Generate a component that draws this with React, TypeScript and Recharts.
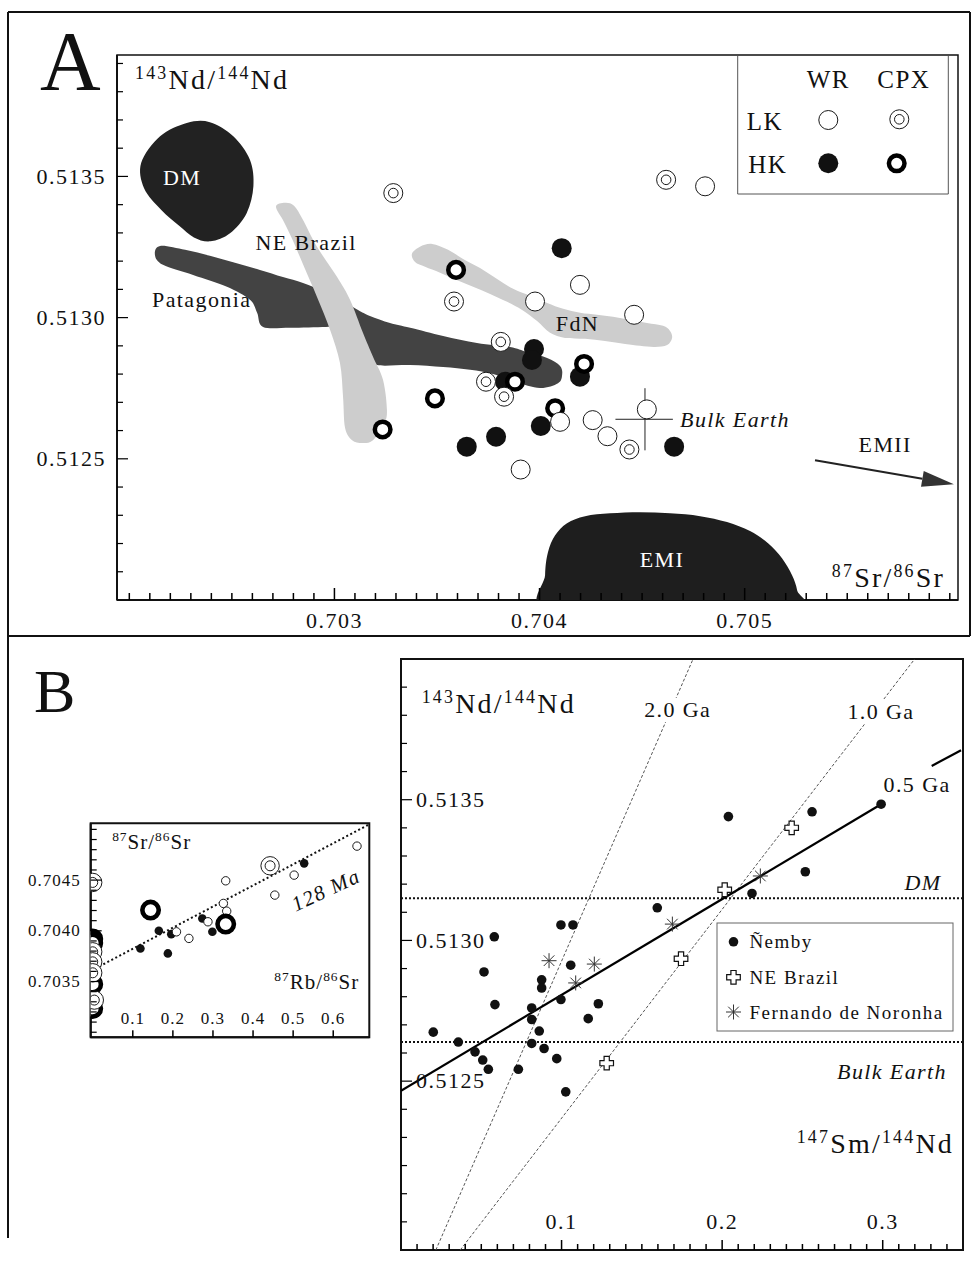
import React from 'react';
import { ScatterChart, Scatter, XAxis, YAxis, ReferenceArea } from 'recharts';

const SERIF = '"Liberation Serif", "Times New Roman", serif';

// ---------------- Panel A : 143Nd/144Nd vs 87Sr/86Sr ----------------
const A_X: [number, number] = [0.70194, 0.70604];
const A_Y: [number, number] = [0.512, 0.51393];
const aXMajors = [0.703, 0.704, 0.705];
const aYMajors = [0.5125, 0.513, 0.5135];

const wrLK_A = [
  { x: 0.704197, y: 0.513116 }, { x: 0.703978, y: 0.513057 }, { x: 0.704461, y: 0.51301 },
  { x: 0.7041, y: 0.512631 }, { x: 0.703908, y: 0.512462 }, { x: 0.704259, y: 0.512637 },
  { x: 0.704331, y: 0.51258 }, { x: 0.704523, y: 0.512675 }, { x: 0.704807, y: 0.513465 },
];
const cpxLK_A = [
  { x: 0.703287, y: 0.513441 }, { x: 0.703583, y: 0.513057 }, { x: 0.703811, y: 0.512914 },
  { x: 0.703739, y: 0.512773 }, { x: 0.703827, y: 0.51272 }, { x: 0.704438, y: 0.512533 },
  { x: 0.704617, y: 0.513488 },
];
const wrHK_A = [
  { x: 0.704108, y: 0.513246 }, { x: 0.703973, y: 0.512889 }, { x: 0.703963, y: 0.51285 },
  { x: 0.703832, y: 0.512773 }, { x: 0.704197, y: 0.512791 }, { x: 0.704006, y: 0.512616 },
  { x: 0.703788, y: 0.512578 }, { x: 0.703645, y: 0.512543 }, { x: 0.704656, y: 0.512543 },
];
const cpxHK_A = [
  { x: 0.703593, y: 0.513169 }, { x: 0.70349, y: 0.512714 }, { x: 0.703235, y: 0.512604 },
  { x: 0.70388, y: 0.512773 }, { x: 0.704217, y: 0.512836 }, { x: 0.704076, y: 0.512679 },
];

// field outlines
const dmField = [
  { x: 0.70215, y: 0.513642 }, { x: 0.70228, y: 0.513689 }, { x: 0.702393, y: 0.513692 },
  { x: 0.702507, y: 0.513642 }, { x: 0.702588, y: 0.513559 }, { x: 0.702605, y: 0.513465 },
  { x: 0.702572, y: 0.51337 }, { x: 0.702491, y: 0.513299 }, { x: 0.702396, y: 0.51327 },
  { x: 0.702315, y: 0.513284 }, { x: 0.702243, y: 0.513325 }, { x: 0.702156, y: 0.513381 },
  { x: 0.702072, y: 0.513458 }, { x: 0.702058, y: 0.513548 },
];
const patagoniaField = [
  { x: 0.70215, y: 0.513254 }, { x: 0.702272, y: 0.51324 }, { x: 0.702393, y: 0.513219 },
  { x: 0.702515, y: 0.513194 }, { x: 0.702637, y: 0.513169 }, { x: 0.702749, y: 0.513144 },
  { x: 0.702847, y: 0.513123 }, { x: 0.702954, y: 0.513091 }, { x: 0.703042, y: 0.513059 },
  { x: 0.703115, y: 0.513027 }, { x: 0.703173, y: 0.513006 }, { x: 0.703271, y: 0.512981 },
  { x: 0.703369, y: 0.512964 }, { x: 0.70353, y: 0.512935 }, { x: 0.703695, y: 0.51291 },
  { x: 0.703856, y: 0.512896 }, { x: 0.703939, y: 0.512878 }, { x: 0.704037, y: 0.512857 },
  { x: 0.7041, y: 0.512829 }, { x: 0.70411, y: 0.512797 }, { x: 0.70409, y: 0.512768 },
  { x: 0.704002, y: 0.512751 }, { x: 0.703881, y: 0.512772 }, { x: 0.703773, y: 0.5128 },
  { x: 0.703661, y: 0.512815 }, { x: 0.70353, y: 0.512825 }, { x: 0.703369, y: 0.512832 },
  { x: 0.703208, y: 0.512832 }, { x: 0.703183, y: 0.512864 }, { x: 0.703125, y: 0.512939 },
  { x: 0.703052, y: 0.512964 }, { x: 0.702959, y: 0.512967 }, { x: 0.702784, y: 0.512964 },
  { x: 0.702652, y: 0.512967 }, { x: 0.702623, y: 0.513017 }, { x: 0.702588, y: 0.513063 },
  { x: 0.702476, y: 0.513109 }, { x: 0.702311, y: 0.513151 }, { x: 0.702164, y: 0.513187 },
  { x: 0.702125, y: 0.513222 },
];
const neBrazilField = [
  { x: 0.702715, y: 0.513393 }, { x: 0.702754, y: 0.513339 }, { x: 0.702798, y: 0.513272 },
  { x: 0.702852, y: 0.51318 }, { x: 0.702915, y: 0.513073 }, { x: 0.702979, y: 0.512956 },
  { x: 0.703027, y: 0.512839 }, { x: 0.703042, y: 0.512719 }, { x: 0.703052, y: 0.512609 },
  { x: 0.703086, y: 0.512566 }, { x: 0.703135, y: 0.512556 }, { x: 0.703188, y: 0.512566 },
  { x: 0.703242, y: 0.512623 }, { x: 0.703256, y: 0.512673 }, { x: 0.703237, y: 0.512779 },
  { x: 0.703188, y: 0.512861 }, { x: 0.703139, y: 0.512946 }, { x: 0.703076, y: 0.513063 },
  { x: 0.703013, y: 0.513144 }, { x: 0.702915, y: 0.513251 }, { x: 0.702847, y: 0.513346 },
  { x: 0.702803, y: 0.513396 }, { x: 0.702759, y: 0.513407 },
];
const fdnField = [
  { x: 0.703378, y: 0.513226 }, { x: 0.703417, y: 0.513251 }, { x: 0.703476, y: 0.513261 },
  { x: 0.703554, y: 0.51324 }, { x: 0.703627, y: 0.513208 }, { x: 0.70371, y: 0.513176 },
  { x: 0.703793, y: 0.513137 }, { x: 0.703871, y: 0.513102 }, { x: 0.703954, y: 0.513077 },
  { x: 0.704037, y: 0.513052 }, { x: 0.704115, y: 0.513031 }, { x: 0.704198, y: 0.513017 },
  { x: 0.70428, y: 0.51301 }, { x: 0.704358, y: 0.513003 }, { x: 0.704441, y: 0.512992 },
  { x: 0.704524, y: 0.512981 }, { x: 0.704602, y: 0.512971 }, { x: 0.704636, y: 0.512953 },
  { x: 0.704646, y: 0.512928 }, { x: 0.704622, y: 0.512903 }, { x: 0.704563, y: 0.512896 },
  { x: 0.70449, y: 0.5129 }, { x: 0.704417, y: 0.512907 }, { x: 0.704319, y: 0.512917 },
  { x: 0.704222, y: 0.512925 }, { x: 0.704124, y: 0.512928 }, { x: 0.704051, y: 0.512946 },
  { x: 0.703988, y: 0.512988 }, { x: 0.703915, y: 0.513027 }, { x: 0.703842, y: 0.513056 },
  { x: 0.703759, y: 0.513084 }, { x: 0.703676, y: 0.513109 }, { x: 0.703593, y: 0.513134 },
  { x: 0.703515, y: 0.513159 }, { x: 0.703442, y: 0.51318 }, { x: 0.703393, y: 0.513197 },
];
const emiField = [
  { x: 0.704032, y: 0.51196 }, { x: 0.704027, y: 0.512088 }, { x: 0.704041, y: 0.512169 },
  { x: 0.704076, y: 0.512229 }, { x: 0.704134, y: 0.512272 }, { x: 0.704222, y: 0.512297 },
  { x: 0.704344, y: 0.512307 }, { x: 0.70449, y: 0.512311 }, { x: 0.704636, y: 0.512307 },
  { x: 0.704783, y: 0.512297 }, { x: 0.704914, y: 0.512276 }, { x: 0.705026, y: 0.512244 },
  { x: 0.705114, y: 0.512201 }, { x: 0.705182, y: 0.512148 }, { x: 0.705231, y: 0.512088 },
  { x: 0.705256, y: 0.512034 }, { x: 0.705265, y: 0.51196 }, { x: 0.70465, y: 0.51194 },
];
const bulkEarthH = [{ x: 0.70437, y: 0.51264 }, { x: 0.70465, y: 0.51264 }];
const bulkEarthV = [{ x: 0.704514, y: 0.51275 }, { x: 0.704514, y: 0.51253 }];
const emiiArrow = [{ x: 0.705343, y: 0.512495 }, { x: 0.70602, y: 0.51241 }];

const aLabels = [
  { x: 0.702257, y: 0.513495, text: 'DM' },
  { x: 0.702862, y: 0.513264, text: 'NE Brazil' },
  { x: 0.702353, y: 0.513063, text: 'Patagonia' },
  { x: 0.704185, y: 0.51298, text: 'FdN' },
  { x: 0.704597, y: 0.512141, text: 'EMI' },
  { x: 0.705685, y: 0.512549, text: 'EMII' },
  { x: 0.704685, y: 0.51264, text: 'Bulk Earth' },
];
const aTitles = [
  { x: 0.702028, y: 0.513843, parts: ['143', 'Nd/', '144', 'Nd'], anchor: 'start' },
  { x: 0.705977, y: 0.51208, parts: ['87', 'Sr/', '86', 'Sr'], anchor: 'end' },
];

// ---------------- Panel B inset : 87Sr/86Sr vs 87Rb/86Sr ----------------
const I_X: [number, number] = [-0.005, 0.69];
const I_Y: [number, number] = [0.70295, 0.70506];
const iXMajors = [0.1, 0.2, 0.3, 0.4, 0.5, 0.6];
const iYMajors = [0.7035, 0.704, 0.7045];

const insetCpxLK = [
  { x: 0, y: 0.704477 }, { x: 0, y: 0.703793 }, { x: 0, y: 0.703694 },
  { x: 0, y: 0.703586 }, { x: 0.004, y: 0.703317 }, { x: 0.4425, y: 0.704641 },
];
const insetCpxHK = [
  { x: 0, y: 0.70392 }, { x: 0, y: 0.70388 }, { x: 0, y: 0.703474 },
  { x: 0, y: 0.703235 }, { x: 0.1443, y: 0.704204 }, { x: 0.3318, y: 0.704066 },
];
const insetWrHK = [
  { x: 0.119, y: 0.703826 }, { x: 0.165, y: 0.704 }, { x: 0.1875, y: 0.703777 },
  { x: 0.196, y: 0.703967 }, { x: 0.2735, y: 0.704122 }, { x: 0.2985, y: 0.70399 },
  { x: 0.5275, y: 0.704665 },
];
const insetWrLK = [
  { x: 0.209, y: 0.70399 }, { x: 0.24, y: 0.703925 }, { x: 0.2875, y: 0.704089 },
  { x: 0.3318, y: 0.704493 }, { x: 0.326, y: 0.70427 }, { x: 0.3343, y: 0.704194 },
  { x: 0.4543, y: 0.704352 }, { x: 0.5025, y: 0.704549 }, { x: 0.6593, y: 0.704835 },
];
const isochron128 = [{ x: 0.00675, y: 0.703629 }, { x: 0.69, y: 0.70505 }];
const iLabels = [{ x: 0.5818, y: 0.704401, text: '128 Ma' }];
const iTitles = [
  { x: 0.0485, y: 0.704878, parts: ['87', 'Sr/', '86', 'Sr'], anchor: 'start' },
  { x: 0.665, y: 0.703497, parts: ['87', 'Rb/', '86', 'Sr'], anchor: 'end' },
];

// ---------------- Panel B main : 143Nd/144Nd vs 147Sm/144Nd ----------------
const B_X: [number, number] = [0, 0.35];
const B_Y: [number, number] = [0.5119, 0.514];
const bXMajors = [0.1, 0.2, 0.3];
const bYMajors = [0.5125, 0.513, 0.5135];

const nemby = [
  { x: 0.0201, y: 0.512674 }, { x: 0.0357, y: 0.512639 }, { x: 0.0461, y: 0.512604 },
  { x: 0.0509, y: 0.512575 }, { x: 0.0544, y: 0.512542 }, { x: 0.0517, y: 0.512888 },
  { x: 0.0581, y: 0.513013 }, { x: 0.0585, y: 0.512772 }, { x: 0.0731, y: 0.512542 },
  { x: 0.0814, y: 0.51276 }, { x: 0.0814, y: 0.512719 }, { x: 0.0861, y: 0.512678 },
  { x: 0.0814, y: 0.512634 }, { x: 0.0891, y: 0.512616 }, { x: 0.0876, y: 0.51286 },
  { x: 0.0876, y: 0.512831 }, { x: 0.097, y: 0.51258 }, { x: 0.0996, y: 0.513055 },
  { x: 0.1071, y: 0.513055 }, { x: 0.1057, y: 0.512912 }, { x: 0.0996, y: 0.51279 },
  { x: 0.1026, y: 0.512462 }, { x: 0.1166, y: 0.512722 }, { x: 0.1229, y: 0.512775 },
  { x: 0.1596, y: 0.513116 }, { x: 0.2039, y: 0.51344 }, { x: 0.256, y: 0.513457 },
  { x: 0.2518, y: 0.513244 }, { x: 0.2186, y: 0.513167 }, { x: 0.299, y: 0.513484 },
];
const neBrazil = [
  { x: 0.1281, y: 0.512564 }, { x: 0.1744, y: 0.512935 },
  { x: 0.2016, y: 0.51318 }, { x: 0.2433, y: 0.5134 },
];
const fernando = [
  { x: 0.0922, y: 0.512928 }, { x: 0.1204, y: 0.512916 }, { x: 0.1088, y: 0.512849 },
  { x: 0.169, y: 0.513058 }, { x: 0.2238, y: 0.513229 },
];
const dmLine = [{ x: 0, y: 0.51315 }, { x: 0.35, y: 0.51315 }];
const bulkEarthLine = [{ x: 0, y: 0.512639 }, { x: 0.35, y: 0.512639 }];
const iso05a = [{ x: 0, y: 0.512466 }, { x: 0.299, y: 0.513484 }];
const iso05b = [{ x: 0.3305, y: 0.51362 }, { x: 0.3488, y: 0.513676 }];
const iso10 = [{ x: 0.0369, y: 0.5119 }, { x: 0.3199, y: 0.514 }];
const iso20 = [{ x: 0.0217, y: 0.5119 }, { x: 0.1819, y: 0.514 }];
const bLabels = [
  { x: 0.1723, y: 0.513819, text: '2.0 Ga' },
  { x: 0.2989, y: 0.513813, text: '1.0 Ga' },
  { x: 0.3214, y: 0.513554, text: '0.5 Ga' },
  { x: 0.3251, y: 0.513205, text: 'DM' },
  { x: 0.3058, y: 0.512535, text: 'Bulk Earth' },
];
const bTitles = [
  { x: 0.0129, y: 0.513841, parts: ['143', 'Nd/', '144', 'Nd'], anchor: 'start' },
  { x: 0.3444, y: 0.512277, parts: ['147', 'Sm/', '144', 'Nd'], anchor: 'end' },
];
const bLegend = ['Ñemby', 'NE Brazil', 'Fernando de Noronha'];

// ---------------- helpers ----------------
const range = (a: number, b: number, step: number) => {
  const out: number[] = [];
  const n = Math.round((b - a) / step);
  for (let i = 0; i <= n; i++) out.push(+(a + i * step).toFixed(6));
  return out;
};

const NoShape = () => <g />;

function closedSpline(pts: { x: number; y: number }[]) {
  const n = pts.length;
  let d = `M${pts[0].x},${pts[0].y}`;
  for (let i = 0; i < n; i++) {
    const p0 = pts[(i - 1 + n) % n];
    const p1 = pts[i];
    const p2 = pts[(i + 1) % n];
    const p3 = pts[(i + 2) % n];
    const c1x = p1.x + (p2.x - p0.x) / 6;
    const c1y = p1.y + (p2.y - p0.y) / 6;
    const c2x = p2.x - (p3.x - p1.x) / 6;
    const c2y = p2.y - (p3.y - p1.y) / 6;
    d += `C${c1x},${c1y} ${c2x},${c2y} ${p2.x},${p2.y}`;
  }
  return d + 'Z';
}

function FieldPath(props: any) {
  const { points, areaFill } = props;
  if (!points || points.length < 3) return null;
  return <path d={closedSpline(points)} fill={areaFill} stroke="none" />;
}

function ArrowPath(props: any) {
  const { points } = props;
  if (!points || points.length < 2) return null;
  const [a, b] = points;
  const ang = Math.atan2(b.y - a.y, b.x - a.x);
  const L = 32;
  const W = 8;
  const bx = b.x - L * Math.cos(ang);
  const by = b.y - L * Math.sin(ang);
  const px = -Math.sin(ang) * W;
  const py = Math.cos(ang) * W;
  return (
    <g>
      <line x1={a.x} y1={a.y} x2={bx} y2={by} stroke="#222" strokeWidth={2.2} />
      <polygon points={`${b.x},${b.y} ${bx + px},${by + py} ${bx - px},${by - py}`} fill="#333" />
    </g>
  );
}

// marker shapes
const openCircle = (r: number) => (p: any) => (
  <circle cx={p.cx} cy={p.cy} r={r} fill="#fff" stroke="#1a1a1a" strokeWidth={1} />
);
const filledCircle = (r: number) => (p: any) => <circle cx={p.cx} cy={p.cy} r={r} fill="#111" />;
const doubleCircle = (r: number, ri: number) => (p: any) => (
  <g>
    <circle cx={p.cx} cy={p.cy} r={r} fill="#fff" stroke="#1a1a1a" strokeWidth={1} />
    <circle cx={p.cx} cy={p.cy} r={ri} fill="none" stroke="#1a1a1a" strokeWidth={1} />
  </g>
);
const ringCircle = (r: number, sw: number) => (p: any) => (
  <circle cx={p.cx} cy={p.cy} r={r} fill="#fff" stroke="#000" strokeWidth={sw} />
);
const plusShape = (p: any) => {
  const a = 6.8;
  const w = 2.6;
  const c = [
    [-w, -a], [w, -a], [w, -w], [a, -w], [a, w], [w, w], [w, a], [-w, a], [-w, w], [-a, w], [-a, -w], [-w, -w],
  ]
    .map(([x, y]) => `${p.cx + x},${p.cy + y}`)
    .join(' ');
  return <polygon points={c} fill="#fff" stroke="#111" strokeWidth={1.2} />;
};
const starShape = (p: any) => {
  const r = 7.5;
  const d = r * 0.7071;
  return (
    <g stroke="#333" strokeWidth={1}>
      <line x1={p.cx - r} y1={p.cy} x2={p.cx + r} y2={p.cy} />
      <line x1={p.cx} y1={p.cy - r} x2={p.cx} y2={p.cy + r} />
      <line x1={p.cx - d} y1={p.cy - d} x2={p.cx + d} y2={p.cy + d} />
      <line x1={p.cx - d} y1={p.cy + d} x2={p.cx + d} y2={p.cy - d} />
    </g>
  );
};

type TextStyle = { size: number; color?: string; italic?: boolean; anchor?: string; rotate?: number; bg?: boolean };

const annoShape = (styles: Record<string, TextStyle>) => (p: any) => {
  const s = styles[p.payload.text];
  const w = p.payload.text.length * s.size * 0.5 + 6;
  return (
    <g transform={s.rotate ? `rotate(${s.rotate},${p.cx},${p.cy})` : undefined}>
      {s.bg && <rect x={p.cx - w / 2} y={p.cy - s.size * 0.55} width={w} height={s.size * 1.1} fill="#fff" />}
      <text
        x={p.cx}
        y={p.cy + s.size * 0.33}
        textAnchor={s.anchor || 'middle'}
        fontFamily={SERIF}
        fontSize={s.size}
        fontStyle={s.italic ? 'italic' : 'normal'}
        letterSpacing={1.4}
        fill={s.color || '#111'}
      >
        {p.payload.text}
      </text>
    </g>
  );
};

const isoShape = (size: number, spacing: number) => (p: any) => {
  const sup = size * 0.64;
  const shift = size * 0.36;
  return (
    <text
      x={p.cx}
      y={p.cy + size * 0.33}
      textAnchor={p.payload.anchor}
      fontFamily={SERIF}
      fontSize={size}
      letterSpacing={spacing}
      fill="#111"
    >
      {p.payload.parts.map((t: string, i: number) =>
        i % 2 === 0 ? (
          <tspan key={i} fontSize={sup} dy={-shift}>
            {t}
          </tspan>
        ) : (
          <tspan key={i} dy={shift}>
            {t}
          </tspan>
        )
      )}
    </text>
  );
};

type TickOpts = {
  axis: 'x' | 'y';
  majors: number[];
  digits: number;
  minorLen: number;
  majorLen: number;
  side: 'out' | 'in';
  offset: number;
  size: number;
  spacing: number;
};
// Ticks are drawn inward from the axis line as thin rects; major ticks carry the label.
const makeTick = (o: TickOpts) => (props: any) => {
  const { x, y, payload } = props;
  const v = payload.value;
  const major = o.majors.some((m) => Math.abs(m - v) < 1e-7);
  const len = major ? o.majorLen : o.minorLen;
  const label = major ? v.toFixed(o.digits) : '';
  const common = { fontFamily: SERIF, fontSize: o.size, letterSpacing: o.spacing, fill: '#111' };
  if (o.axis === 'y') {
    return (
      <g>
        <rect x={x} y={y - 0.6} width={len} height={1.2} fill="#000" />
        {major && (
          <text
            x={o.side === 'out' ? x - o.offset : x + o.offset}
            y={y + o.size * 0.33}
            textAnchor={o.side === 'out' ? 'end' : 'start'}
            {...common}
          >
            {label}
          </text>
        )}
      </g>
    );
  }
  return (
    <g>
      <rect x={x - 0.75} y={y - len} width={1.5} height={len} fill="#000" />
      {major && (
        <text x={x} y={(o.side === 'out' ? y + o.offset : y - o.offset) + o.size * 0.33} textAnchor="middle" {...common}>
          {label}
        </text>
      )}
    </g>
  );
};

const axisLine = { stroke: '#111', strokeWidth: 2 };

// ---------------- Panel A ----------------
const aLabelStyles: Record<string, TextStyle> = {
  DM: { size: 22, color: '#fff' },
  'NE Brazil': { size: 22 },
  Patagonia: { size: 22 },
  FdN: { size: 22 },
  EMI: { size: 22, color: '#fff' },
  EMII: { size: 22 },
  'Bulk Earth': { size: 22, italic: true, anchor: 'start' },
};

function PanelA() {
  return (
    <ScatterChart width={973} height={640} margin={{ top: 55, right: 15, bottom: 20, left: 97 }}>
      <XAxis
        type="number"
        dataKey="x"
        domain={A_X}
        allowDataOverflow
        ticks={range(0.702, 0.706, 0.0001)}
        interval={0}
        tickSize={0}
        tickMargin={0}
        tickLine={false}
        height={20}
        axisLine={axisLine}
        tick={makeTick({ axis: 'x', majors: aXMajors, digits: 3, minorLen: 7, majorLen: 12, side: 'out', offset: 21, size: 22, spacing: 1.5 })}
      />
      <YAxis
        type="number"
        dataKey="y"
        domain={A_Y}
        allowDataOverflow
        ticks={range(0.5121, 0.5139, 0.0001)}
        interval={0}
        tickSize={0}
        tickMargin={0}
        tickLine={false}
        width={20}
        axisLine={axisLine}
        tick={makeTick({ axis: 'y', majors: aYMajors, digits: 4, minorLen: 6, majorLen: 11, side: 'out', offset: 11, size: 22, spacing: 1.5 })}
      />
      <ReferenceArea x1={A_X[0]} x2={A_X[1]} y1={A_Y[0]} y2={A_Y[1]} fill="none" stroke="#111" strokeWidth={1.5} />
      <Scatter data={dmField} shape={NoShape} line={<FieldPath areaFill="#222" />} isAnimationActive={false} />
      <Scatter data={emiField} shape={NoShape} line={<FieldPath areaFill="#1e1e1e" />} isAnimationActive={false} />
      <Scatter data={patagoniaField} shape={NoShape} line={<FieldPath areaFill="#434343" />} isAnimationActive={false} />
      <Scatter data={neBrazilField} shape={NoShape} line={<FieldPath areaFill="#cdcdcd" />} isAnimationActive={false} />
      <Scatter data={fdnField} shape={NoShape} line={<FieldPath areaFill="#cdcdcd" />} isAnimationActive={false} />
      <Scatter data={bulkEarthH} shape={NoShape} line={{ stroke: '#222', strokeWidth: 1 }} isAnimationActive={false} />
      <Scatter data={bulkEarthV} shape={NoShape} line={{ stroke: '#222', strokeWidth: 1 }} isAnimationActive={false} />
      <Scatter data={emiiArrow} shape={NoShape} line={<ArrowPath />} isAnimationActive={false} />
      <Scatter data={aLabels} shape={annoShape(aLabelStyles)} isAnimationActive={false} />
      <Scatter data={aTitles} shape={isoShape(28, 2.2)} isAnimationActive={false} />
      <Scatter data={wrHK_A} shape={filledCircle(10)} isAnimationActive={false} />
      <Scatter data={cpxHK_A} shape={ringCircle(7.8, 4.5)} isAnimationActive={false} />
      <Scatter data={wrLK_A} shape={openCircle(9.5)} isAnimationActive={false} />
      <Scatter data={cpxLK_A} shape={doubleCircle(9.5, 4.8)} isAnimationActive={false} />
    </ScatterChart>
  );
}

// ---------------- Inset ----------------
const iLabelStyles: Record<string, TextStyle> = {
  '128 Ma': { size: 21, italic: true, rotate: -25 },
};

function Inset() {
  return (
    <ScatterChart width={380} height={280} margin={{ top: 43.3, right: 10.7, bottom: 2.7, left: 70.7 }}>
      <XAxis
        type="number"
        dataKey="x"
        domain={I_X}
        allowDataOverflow
        ticks={iXMajors}
        interval={0}
        tickSize={0}
        tickMargin={0}
        tickLine={false}
        height={20}
        axisLine={axisLine}
        tick={makeTick({ axis: 'x', majors: iXMajors, digits: 1, minorLen: 7, majorLen: 7, side: 'in', offset: 19, size: 17, spacing: 1 })}
      />
      <YAxis
        type="number"
        dataKey="y"
        domain={I_Y}
        allowDataOverflow
        ticks={range(0.703, 0.705, 0.0001)}
        interval={0}
        tickSize={0}
        tickMargin={0}
        tickLine={false}
        width={20}
        axisLine={axisLine}
        tick={makeTick({ axis: 'y', majors: iYMajors, digits: 4, minorLen: 6, majorLen: 11, side: 'out', offset: 10, size: 17, spacing: 1 })}
      />
      <ReferenceArea x1={I_X[0]} x2={I_X[1]} y1={I_Y[0]} y2={I_Y[1]} fill="none" stroke="#111" strokeWidth={2} />
      <Scatter data={isochron128} shape={NoShape} line={{ stroke: '#111', strokeWidth: 2, strokeDasharray: '2 2.5' }} isAnimationActive={false} />
      <Scatter data={iTitles} shape={isoShape(21, 1)} isAnimationActive={false} />
      <Scatter data={iLabels} shape={annoShape(iLabelStyles)} isAnimationActive={false} />
      <Scatter data={insetWrHK} shape={filledCircle(4.3)} isAnimationActive={false} />
      <Scatter data={insetWrLK} shape={openCircle(4.2)} isAnimationActive={false} />
      <Scatter data={insetCpxHK} shape={ringCircle(8.2, 4.6)} isAnimationActive={false} />
      <Scatter data={insetCpxLK} shape={doubleCircle(9.2, 5)} isAnimationActive={false} />
    </ScatterChart>
  );
}

// ---------------- Panel B main ----------------
const bLabelStyles: Record<string, TextStyle> = {
  '2.0 Ga': { size: 22, bg: true },
  '1.0 Ga': { size: 22, bg: true },
  '0.5 Ga': { size: 22, bg: true },
  DM: { size: 22, italic: true },
  'Bulk Earth': { size: 22, italic: true },
};

function PanelB() {
  return (
    <ScatterChart width={632} height={637} margin={{ top: 19, right: 10, bottom: 7, left: 40 }}>
      <XAxis
        type="number"
        dataKey="x"
        domain={B_X}
        allowDataOverflow
        ticks={range(0.01, 0.34, 0.01)}
        interval={0}
        tickSize={0}
        tickMargin={0}
        tickLine={false}
        height={20}
        axisLine={axisLine}
        tick={makeTick({ axis: 'x', majors: bXMajors, digits: 1, minorLen: 6, majorLen: 10, side: 'in', offset: 28, size: 22, spacing: 1.5 })}
      />
      <YAxis
        type="number"
        dataKey="y"
        domain={B_Y}
        allowDataOverflow
        ticks={range(0.512, 0.5139, 0.0001)}
        interval={0}
        tickSize={0}
        tickMargin={0}
        tickLine={false}
        width={20}
        axisLine={axisLine}
        tick={makeTick({ axis: 'y', majors: bYMajors, digits: 4, minorLen: 6, majorLen: 11, side: 'in', offset: 15, size: 22, spacing: 1.5 })}
      />
      <ReferenceArea x1={B_X[0]} x2={B_X[1]} y1={B_Y[0]} y2={B_Y[1]} fill="none" stroke="#111" strokeWidth={2} />
      <Scatter data={dmLine} shape={NoShape} line={{ stroke: '#111', strokeWidth: 2, strokeDasharray: '2 2' }} isAnimationActive={false} />
      <Scatter data={bulkEarthLine} shape={NoShape} line={{ stroke: '#111', strokeWidth: 2, strokeDasharray: '2 2' }} isAnimationActive={false} />
      <Scatter data={iso20} shape={NoShape} line={{ stroke: '#555', strokeWidth: 1, strokeDasharray: '3 2' }} isAnimationActive={false} />
      <Scatter data={iso10} shape={NoShape} line={{ stroke: '#555', strokeWidth: 1, strokeDasharray: '3 2' }} isAnimationActive={false} />
      <Scatter data={iso05a} shape={NoShape} line={{ stroke: '#000', strokeWidth: 2.2 }} isAnimationActive={false} />
      <Scatter data={iso05b} shape={NoShape} line={{ stroke: '#000', strokeWidth: 2.2 }} isAnimationActive={false} />
      <Scatter data={bLabels} shape={annoShape(bLabelStyles)} isAnimationActive={false} />
      <Scatter data={bTitles} shape={isoShape(28, 2.2)} isAnimationActive={false} />
      <Scatter data={nemby} shape={filledCircle(4.8)} isAnimationActive={false} />
      <Scatter data={neBrazil} shape={plusShape} isAnimationActive={false} />
      <Scatter data={fernando} shape={starShape} isAnimationActive={false} />
    </ScatterChart>
  );
}

// ---------------- page overlay: frame, panel letters, legends ----------------
function Overlay() {
  const txt = { fontFamily: SERIF, fill: '#111' } as const;
  return (
    <svg width={973} height={1277} style={{ position: 'absolute', left: 0, top: 0, pointerEvents: 'none' }}>
      <g stroke="#111" strokeWidth={2}>
        <line x1={8} y1={12} x2={970} y2={12} />
        <line x1={8} y1={12} x2={8} y2={1238} />
        <line x1={970} y1={12} x2={970} y2={636} />
        <line x1={8} y1={636} x2={970} y2={636} />
      </g>
      <text x={40} y={90} fontSize={84} {...txt}>A</text>
      <text x={34} y={712} fontSize={62} {...txt}>B</text>

      {/* legend A */}
      <g stroke="#555" strokeWidth={1}>
        <line x1={737.7} y1={56} x2={737.7} y2={194} />
        <line x1={737.7} y1={194} x2={948.3} y2={194} />
        <line x1={948.3} y1={56} x2={948.3} y2={194} />
      </g>
      <text x={828.3} y={88} fontSize={25} letterSpacing={1.5} textAnchor="middle" {...txt}>WR</text>
      <text x={903.8} y={88} fontSize={25} letterSpacing={1.5} textAnchor="middle" {...txt}>CPX</text>
      <text x={746.7} y={130} fontSize={25} letterSpacing={1.5} {...txt}>LK</text>
      <text x={748.3} y={173} fontSize={25} letterSpacing={1.5} {...txt}>HK</text>
      {openCircle(9.5)({ cx: 828.3, cy: 120 })}
      {doubleCircle(9.5, 4.8)({ cx: 899.3, cy: 119.3 })}
      {filledCircle(10)({ cx: 828.3, cy: 163.3 })}
      {ringCircle(7.8, 4.5)({ cx: 896.7, cy: 163.3 })}

      {/* legend B */}
      <rect x={717} y={923} width={236} height={108} fill="#fff" stroke="#666" strokeWidth={1} />
      {filledCircle(4.8)({ cx: 733.5, cy: 941.8 })}
      {plusShape({ cx: 733.5, cy: 977.3 })}
      {starShape({ cx: 733.5, cy: 1012 })}
      {bLegend.map((t, i) => (
        <text key={t} x={749.4} y={[941.8, 977.3, 1012][i] + 6.5} fontSize={19} letterSpacing={1.5} {...txt}>
          {t}
        </text>
      ))}
    </svg>
  );
}

export default function App() {
  return (
    <div style={{ position: 'absolute', left: 0, top: 0, width: 973, height: 1277, background: '#fff' }}>
      <div style={{ position: 'absolute', left: 0, top: 0 }}>
        <PanelA />
      </div>
      <div style={{ position: 'absolute', left: 341, top: 640 }}>
        <PanelB />
      </div>
      <div style={{ position: 'absolute', left: 0, top: 780 }}>
        <Inset />
      </div>
      <Overlay />
    </div>
  );
}
